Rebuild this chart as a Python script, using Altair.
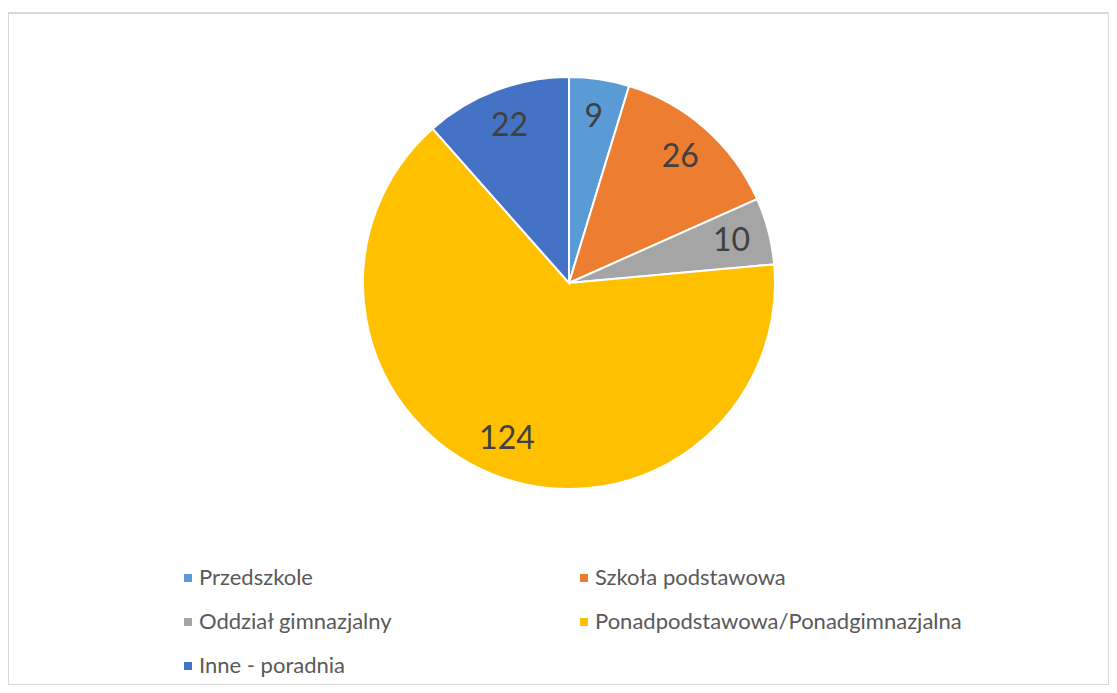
import altair as alt
import pandas as pd

categories = ["Przedszkole", "Szkoła podstawowa", "Oddział gimnazjalny",
              "Ponadpodstawowa/Ponadgimnazjalna", "Inne - poradnia"]
values = [9, 26, 10, 124, 22]
colors = ["#5B9BD5", "#ED7D31", "#A5A5A5", "#FFC000", "#4472C4"]

df = pd.DataFrame({"category": categories, "value": values,
                   "idx": list(range(len(categories)))})

FONT = "Lato"

base = alt.Chart(df).encode(
    theta=alt.Theta("value:Q", stack=True),
    order=alt.Order("idx:Q"),
    x=alt.value(561),
    y=alt.value(270),
)

color = alt.Color(
    "category:N",
    scale=alt.Scale(domain=categories, range=colors),
    legend=alt.Legend(
        title=None, orient="none", legendX=169, legendY=554,
        direction="horizontal", columns=2, columnPadding=180, rowPadding=22,
        symbolType="square", symbolSize=64, symbolStrokeWidth=0,
        labelFontSize=22, labelColor="#595959", labelFont=FONT,
        labelOffset=0, padding=0, labelLimit=500,
    ),
)

pie = base.mark_arc(outerRadius=206, stroke="white", strokeWidth=2).encode(color=color)
labels = base.mark_text(radius=168, fontSize=32, color="#404040", font=FONT).encode(
    text="value:Q")

chart = (pie + labels).properties(
    width=1101, height=672,
    autosize=alt.AutoSizeParams(type="none"),
    padding={"left": 0, "top": 5, "right": 0, "bottom": 0},
).configure_view(stroke="#d9d9d9", strokeWidth=2)

chart.save("out.html", embed_options={"renderer": "svg", "actions": False})
